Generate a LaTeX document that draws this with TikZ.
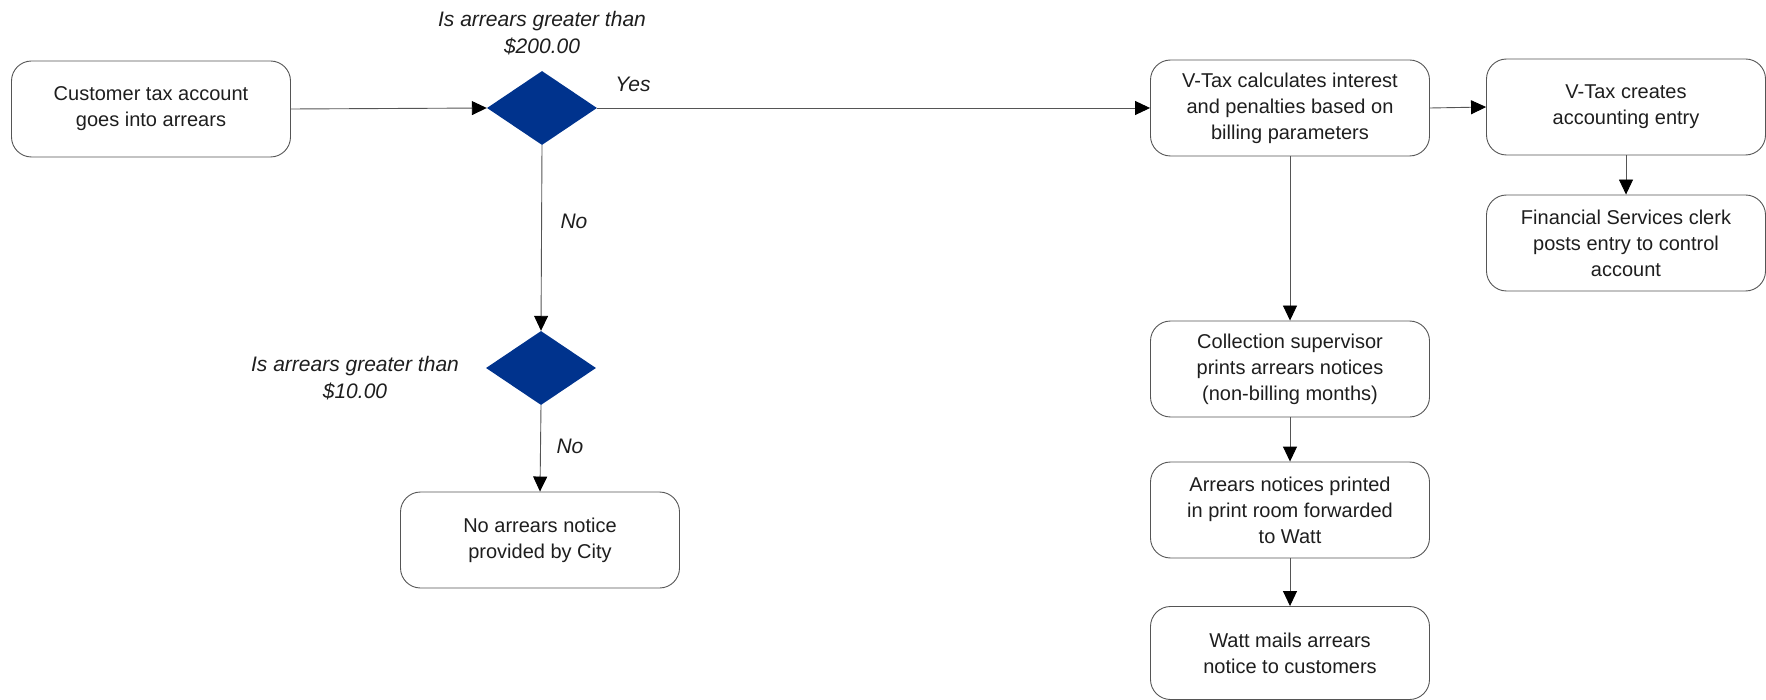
\documentclass[tikz,border=0pt]{standalone}
\usepackage{fontspec}
\setmainfont{Liberation Sans}
\usetikzlibrary{shapes.geometric,arrows.meta}
\definecolor{dblue}{RGB}{0,51,141}
\definecolor{lgray}{RGB}{85,85,85}
\definecolor{tgray}{RGB}{30,30,30}
\begin{document}
\begin{tikzpicture}[x=1pt,y=-1pt,
  box/.style={draw=lgray,line width=0.9pt,rounded corners=20pt,minimum width=279pt,minimum height=96pt,inner sep=0pt,align=center,text=tgray,font=\fontsize{20}{26}\selectfont},
  dec/.style={diamond,fill=dblue,draw=none,minimum width=110pt,minimum height=74pt,inner sep=0pt},
  lab/.style={align=center,text=tgray,font=\fontsize{21}{27}\selectfont\itshape},
  arr/.style={draw=lgray,line width=0.9pt,-{Triangle[length=15pt,width=14pt,fill=black,color=black]}}]
\useasboundingbox (0,0) rectangle (1766,700);
\node[box] (cust) at (151,109) {Customer tax account\\goes into arrears};
\node[dec] (d1) at (542,108) {};
\node[lab] (l1) at (542,33) {Is arrears greater than\\\$200.00};
\node[lab] (yes) at (633,84) {Yes};
\node[box] (vcalc) at (1290,108) {V-Tax calculates interest\\and penalties based on\\billing parameters};
\node[box] (vcreate) at (1626,107) {V-Tax creates\\accounting entry};
\node[box] (fin) at (1626,243) {Financial Services clerk\\posts entry to control\\account};
\node[box] (coll) at (1290,369) {Collection supervisor\\prints arrears notices\\(non-billing months)};
\node[box] (prt) at (1290,510) {Arrears notices printed\\in print room forwarded\\to Watt};
\node[box,minimum height=93pt] (watt) at (1290,653) {Watt mails arrears\\notice to customers};
\node[dec] (d2) at (541,368) {};
\node[lab] (l2) at (355,378) {Is arrears greater than\\\$10.00};
\node[lab] (no1) at (574,221) {No};
\node[lab] (no2) at (570,446) {No};
\node[box] (noarr) at (540,540) {No arrears notice\\provided by City};
\draw[arr] (cust.east) -- (d1.west);
\draw[arr] (d1.east) -- (vcalc.west);
\draw[arr] (vcalc.east) -- (vcreate.west);
\draw[arr] (vcreate.south) -- (fin.north);
\draw[arr] (vcalc.south) -- (coll.north);
\draw[arr] (coll.south) -- (prt.north);
\draw[arr] (prt.south) -- (watt.north);
\draw[arr] (d1.south) -- (d2.north);
\draw[arr] (d2.south) -- (noarr.north);
\end{tikzpicture}
\end{document}
